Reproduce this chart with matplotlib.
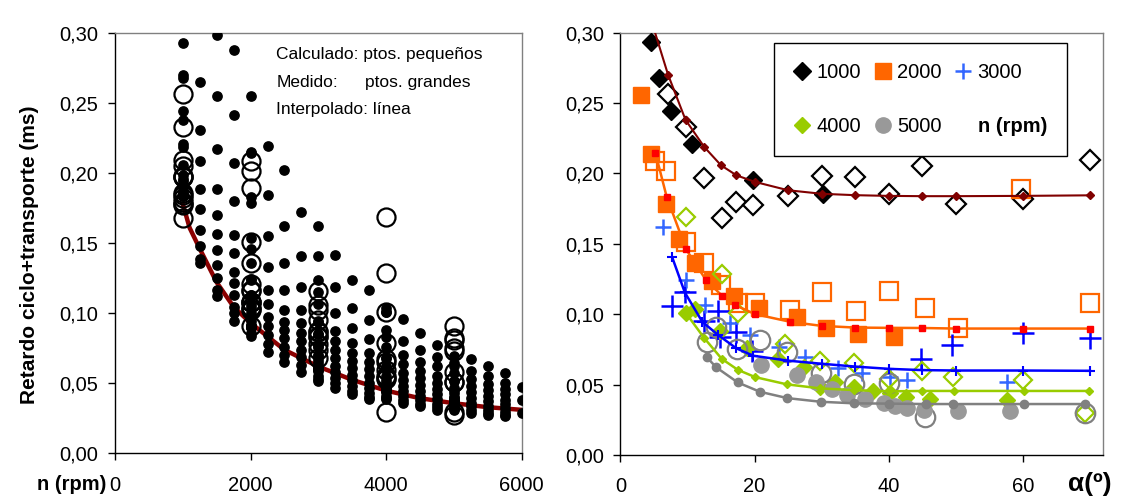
import matplotlib
matplotlib.use('Agg')
import matplotlib.pyplot as plt
from matplotlib.lines import Line2D
from matplotlib.ticker import FuncFormatter

plt.rcParams['font.family'] = ['Liberation Sans', 'DejaVu Sans']

# ---------------- Right panel data: alpha (deg) -> delay (ms) ----------------
# 1000 rpm
a1000_line = [4.5, 7.1, 9.7, 12.5, 15.0, 17.3, 20.0, 25.0, 30.0, 35.0, 40.0, 45.0, 50.0, 60.0, 70.0]
v1000_line = [0.310, 0.270, 0.238, 0.2187, 0.2057, 0.1986, 0.1940, 0.1880, 0.1855, 0.1845, 0.1840, 0.1838, 0.1838, 0.1840, 0.1844]
a1000_calc = [4.5, 5.8, 7.6, 10.7, 19.7, 30.2]
v1000_calc = [0.293, 0.268, 0.244, 0.221, 0.1955, 0.185]
a1000_meas = [7.1, 9.7, 12.5, 15.1, 17.3, 19.8, 25.0, 30.0, 35.0, 40.0, 45.0, 50.0, 60.0, 70.0]
v1000_meas = [0.2565, 0.233, 0.197, 0.168, 0.1795, 0.1775, 0.184, 0.198, 0.1975, 0.1855, 0.205, 0.178, 0.182, 0.2095]
# 2000 rpm
a2000_line = [5.2, 6.9, 9.8, 12.7, 15.2, 17.1, 20.1, 25.3, 30.0, 35.0, 40.0, 45.0, 50.0, 60.0, 70.0]
v2000_line = [0.2147, 0.1832, 0.146, 0.1246, 0.1128, 0.1064, 0.100, 0.0946, 0.0917, 0.0905, 0.0903, 0.0902, 0.0898, 0.0898, 0.0898]
a2000_calc = [3.1, 4.6, 6.8, 8.8, 11.1, 13.7, 17.0, 20.7, 26.3, 30.6, 35.4, 40.8]
v2000_calc = [0.2553, 0.214, 0.1785, 0.1535, 0.136, 0.1235, 0.1128, 0.1045, 0.098, 0.0905, 0.0862, 0.0836]
a2000_meas = [5.2, 6.8, 9.8, 12.5, 15.0, 17.5, 20.0, 25.3, 30.0, 35.2, 40.0, 45.4, 50.3, 59.8, 70.0]
v2000_meas = [0.2085, 0.2017, 0.151, 0.136, 0.121, 0.108, 0.108, 0.1028, 0.1155, 0.1022, 0.1168, 0.1045, 0.0905, 0.189, 0.108]
# 3000 rpm
a3000_line = [7.7, 9.6, 12.2, 14.6, 17.3, 19.8, 25.0, 30.0, 35.0, 40.0, 45.0, 50.0, 60.0, 70.0]
v3000_line = [0.1406, 0.1154, 0.0946, 0.0851, 0.0757, 0.0705, 0.0670, 0.0648, 0.0628, 0.0612, 0.0603, 0.0600, 0.0600, 0.0598]
a3000_calc = [6.3, 9.8, 12.6, 16.3, 19.3, 23.6, 27.5, 32.5, 36.0, 40.2, 42.8, 57.6]
v3000_calc = [0.162, 0.124, 0.1064, 0.0934, 0.0851, 0.0768, 0.0697, 0.0618, 0.0584, 0.0555, 0.053, 0.0518]
a3000_meas = [7.7, 9.6, 12.4, 14.6, 14.8, 17.3, 19.6, 44.8, 49.5, 60.1, 70.0]
v3000_meas = [0.106, 0.116, 0.095, 0.102, 0.084, 0.087, 0.074, 0.068, 0.078, 0.0863, 0.0828]
# 4000 rpm
a4000_line = [9.8, 12.5, 15.1, 17.5, 20.1, 24.8, 29.8, 34.9, 40.1, 45.0, 49.7, 60.2, 69.8]
v4000_line = [0.1005, 0.083, 0.0683, 0.0605, 0.0553, 0.0502, 0.0473, 0.0461, 0.0452, 0.0455, 0.0455, 0.0455, 0.0455]
a4000_calc = [9.8, 11.1, 14.8, 18.9, 23.5, 27.3, 29.8, 32.0, 34.8, 37.7, 40.2, 42.6, 46.1, 57.6]
v4000_calc = [0.1005, 0.104, 0.088, 0.076, 0.068, 0.0625, 0.0484, 0.052, 0.0484, 0.0452, 0.044, 0.041, 0.0398, 0.039]
a4000_meas = [9.8, 15.2, 17.5, 24.6, 29.8, 34.8, 40.1, 45.0, 49.6, 60.1, 69.3]
v4000_meas = [0.169, 0.1285, 0.1005, 0.079, 0.067, 0.065, 0.054, 0.0595, 0.0553, 0.053, 0.0298]
# 5000 rpm
a5000_line = [12.9, 14.3, 17.5, 20.8, 24.9, 29.9, 34.9, 40.0, 45.5, 49.6, 60.2, 69.3]
v5000_line = [0.0693, 0.0622, 0.0515, 0.0449, 0.0404, 0.0378, 0.0367, 0.0365, 0.0362, 0.0362, 0.0362, 0.0362]
a5000_calc = [21.0, 26.3, 29.2, 31.6, 33.8, 36.5, 39.3, 41.0, 42.8, 45.2, 50.4, 58.1]
v5000_calc = [0.0642, 0.057, 0.0515, 0.0466, 0.0428, 0.0398, 0.0369, 0.035, 0.0334, 0.0322, 0.031, 0.0314]
a5000_meas = [12.9, 14.2, 17.4, 20.8, 24.9, 29.9, 34.9, 40.0, 45.4, 69.3]
v5000_meas = [0.0806, 0.091, 0.0755, 0.082, 0.0733, 0.058, 0.0507, 0.0511, 0.0272, 0.0298]

# ---------------- Left panel data: rpm -> delay (ms) ----------------
calc_1250 = [0.265, 0.2305, 0.2086, 0.1883, 0.174, 0.1595, 0.1478, 0.139, 0.1355]
calc_1500 = [0.2986, 0.255, 0.2169, 0.1883, 0.1704, 0.1563, 0.1452, 0.1345, 0.125, 0.1166, 0.112]
calc_1750 = [0.2876, 0.2414, 0.2074, 0.1804, 0.156, 0.1429, 0.1297, 0.1214, 0.1131, 0.1047, 0.100, 0.0947]
calc_2250 = [0.219, 0.1846, 0.155, 0.1333, 0.1166, 0.1065, 0.0976, 0.0905, 0.0845, 0.078, 0.0725]
calc_2500 = [0.2024, 0.162, 0.1357, 0.1166, 0.1024, 0.094, 0.088, 0.082, 0.076, 0.0705, 0.0655]
calc_2750 = [0.1719, 0.1405, 0.1186, 0.1024, 0.0929, 0.086, 0.080, 0.074, 0.0685, 0.063, 0.058]
calc_3250 = [0.1417, 0.1186, 0.100, 0.0875, 0.080, 0.0735, 0.068, 0.0625, 0.058, 0.054, 0.050, 0.0465]
calc_3500 = [0.1238, 0.1036, 0.0893, 0.0786, 0.0715, 0.066, 0.061, 0.056, 0.052, 0.048, 0.0445, 0.042]
calc_3750 = [0.1163, 0.0952, 0.0818, 0.0714, 0.065, 0.060, 0.055, 0.0505, 0.0465, 0.043, 0.0405, 0.0385]
calc_4250 = [0.096, 0.0803, 0.0702, 0.0635, 0.0575, 0.0525, 0.048, 0.0445, 0.041, 0.038, 0.036]
calc_4500 = [0.086, 0.0735, 0.0655, 0.059, 0.0535, 0.0485, 0.0445, 0.041, 0.038, 0.0355, 0.0335]
calc_4750 = [0.0774, 0.0685, 0.062, 0.0555, 0.0505, 0.046, 0.042, 0.0385, 0.0355, 0.033, 0.031]
calc_5250 = [0.0671, 0.059, 0.053, 0.048, 0.0435, 0.0395, 0.036, 0.0335, 0.031, 0.0288]
calc_5500 = [0.0625, 0.0555, 0.0495, 0.045, 0.041, 0.037, 0.034, 0.031, 0.0288, 0.0275]
calc_5750 = [0.0571, 0.0505, 0.046, 0.042, 0.038, 0.035, 0.032, 0.0295, 0.0275, 0.0265]
calc_6000 = [0.0474, 0.038, 0.0286]

curve_rpm = [1000, 1100, 1250, 1500, 1750, 2000, 2500, 3000, 3500, 4000, 4500, 5000, 5500, 6000]
curve_ret = [0.178, 0.161, 0.146, 0.122, 0.1045, 0.093, 0.0738, 0.0619, 0.0524, 0.0447, 0.0393, 0.0357, 0.0329, 0.031]

calc_cols = {
    1000: v1000_calc + v1000_line, 1250: calc_1250, 1500: calc_1500, 1750: calc_1750,
    2000: v2000_calc + v2000_line, 2250: calc_2250, 2500: calc_2500, 2750: calc_2750,
    3000: v3000_calc + v3000_line, 3250: calc_3250, 3500: calc_3500, 3750: calc_3750,
    4000: v4000_calc + v4000_line, 4250: calc_4250, 4500: calc_4500, 4750: calc_4750,
    5000: v5000_calc + v5000_line, 5250: calc_5250, 5500: calc_5500, 5750: calc_5750,
    6000: calc_6000,
}
meas_cols = {1000: v1000_meas, 2000: v2000_meas, 3000: v3000_meas,
             4000: v4000_meas, 5000: v5000_meas}

comma = FuncFormatter(lambda v, p: ('%.2f' % v).replace('.', ','))

fig = plt.figure(figsize=(11.22, 4.98), dpi=100)
axL = fig.add_axes([0.1025, 0.0898, 0.3625, 0.8440])
axR = fig.add_axes([0.5530, 0.0863, 0.4303, 0.8484])

for ax in (axL, axR):
    for s in ('left', 'bottom'):
        ax.spines[s].set_color('black')
        ax.spines[s].set_linewidth(1.0)
    for s in ('top', 'right'):
        ax.spines[s].set_color('#808080')
        ax.spines[s].set_linewidth(1.0)
    ax.set_ylim(0, 0.30)
    ax.set_yticks([0, 0.05, 0.10, 0.15, 0.20, 0.25, 0.30])
    ax.yaxis.set_major_formatter(comma)
    ax.tick_params(axis='both', direction='out', length=5, width=1, labelsize=14.5)
    ax.tick_params(axis='x', pad=11)
    ax.tick_params(axis='y', pad=7)

# ---------- Left panel ----------
axL.set_xlim(0, 6000)
axL.set_xticks([0, 2000, 4000, 6000])
axL.plot(curve_rpm, curve_ret, color='#8B0000', lw=3.2, zorder=2)
for rpm, vals in calc_cols.items():
    axL.plot([rpm] * len(vals), vals, 'o', color='black', ms=6.7, ls='none', zorder=3)
for rpm, vals in meas_cols.items():
    axL.plot([rpm] * len(vals), vals, 'o', mfc='none', mec='black', ms=13, mew=1.6,
             ls='none', zorder=4)

nf = ['Liberation Sans Narrow', 'Liberation Sans', 'DejaVu Sans']
axL.text(0.397, 0.948, 'Calculado: ptos. pequeños', transform=axL.transAxes,
         family=nf, fontsize=12.5, va='center', ha='left')
axL.text(0.397, 0.882, 'Medido:', transform=axL.transAxes,
         family=nf, fontsize=12.5, va='center', ha='left')
axL.text(0.614, 0.882, 'ptos. grandes', transform=axL.transAxes,
         family=nf, fontsize=12.5, va='center', ha='left')
axL.text(0.397, 0.818, 'Interpolado: línea', transform=axL.transAxes,
         family=nf, fontsize=12.5, va='center', ha='left')

fig.text(30 / 1122, 1 - 255 / 498, 'Retardo ciclo+transporte (ms)', rotation=90,
         fontsize=15, fontweight='bold', ha='center', va='center')
fig.text(72 / 1122, 1 - 484 / 498, 'n (rpm)', fontsize=14.5, fontweight='bold',
         ha='center', va='center')

# ---------- Right panel ----------
axR.set_xlim(0, 72)
axR.set_xticks([0, 20, 40, 60])

# 1000
axR.plot(a1000_meas, v1000_meas, 'D', mfc='white', mec='black', ms=10, mew=1.6, ls='none', zorder=3)
h1000, = axR.plot(a1000_calc, v1000_calc, 'D', color='black', ms=9, ls='none', zorder=3)
axR.plot(a1000_line, v1000_line, '-D', color='#800000', lw=1.5, ms=4.5, zorder=4)
# 2000
axR.plot(a2000_meas, v2000_meas, 's', mfc='none', mec='#FF6600', ms=12.5, mew=1.6, ls='none', zorder=3)
h2000, = axR.plot(a2000_calc, v2000_calc, 's', color='#FF6600', ms=12, ls='none', zorder=3)
axR.plot(a2000_line, v2000_line, '-', color='#FF6600', lw=1.8, zorder=4)
axR.plot(a2000_line, v2000_line, 's', color='#FF0000', ms=5, ls='none', zorder=4)
# 3000
axR.plot(a3000_meas, v3000_meas, '+', color='#0000FF', ms=16, mew=1.8, ls='none', zorder=3)
h3000, = axR.plot(a3000_calc, v3000_calc, '+', color='#3366FF', ms=12, mew=1.8, ls='none', zorder=3)
axR.plot(a3000_line, v3000_line, '-+', color='#0000FF', lw=1.8, ms=7, mew=1.5, zorder=4)
# 4000
axR.plot(a4000_meas, v4000_meas, 'D', mfc='none', mec='#99CC00', ms=9.5, mew=1.6, ls='none', zorder=3)
h4000, = axR.plot(a4000_calc, v4000_calc, 'D', color='#99CC00', ms=8, ls='none', zorder=3)
axR.plot(a4000_line, v4000_line, '-D', color='#99CC00', lw=1.8, ms=4.5, zorder=4)
# 5000
axR.plot(a5000_meas, v5000_meas, 'o', mfc='none', mec='#808080', ms=14, mew=1.6, ls='none', zorder=3)
h5000, = axR.plot(a5000_calc, v5000_calc, 'o', color='#999999', ms=11, ls='none', zorder=3)
axR.plot(a5000_line, v5000_line, '-o', color='#808080', lw=1.8, ms=6, zorder=4)

hblank = Line2D([], [], ls='none', marker=None)
handles = [h1000, h4000, h2000, h5000, h3000, hblank]
labels = ['1000', '4000', '2000', '5000', '3000', 'n (rpm)']
leg = axR.legend(handles, labels, ncol=3, loc='upper left',
                 bbox_to_anchor=(0.318, 0.716, 0.607, 0.26), mode='expand',
                 fontsize=14.5, frameon=True, fancybox=False, edgecolor='black',
                 framealpha=1, handlelength=0.8, handletextpad=0.3,
                 labelspacing=1.75, borderaxespad=0, borderpad=1.0, columnspacing=1.0)
leg.get_frame().set_linewidth(1.0)
leg.set_zorder(10)
leg.get_texts()[-1].set_fontweight('bold')

fig.text(1090 / 1122, 1 - 484 / 498, 'α(º)', fontsize=19, fontweight='bold',
         ha='center', va='center')

fig.savefig('out.png', dpi=100)
